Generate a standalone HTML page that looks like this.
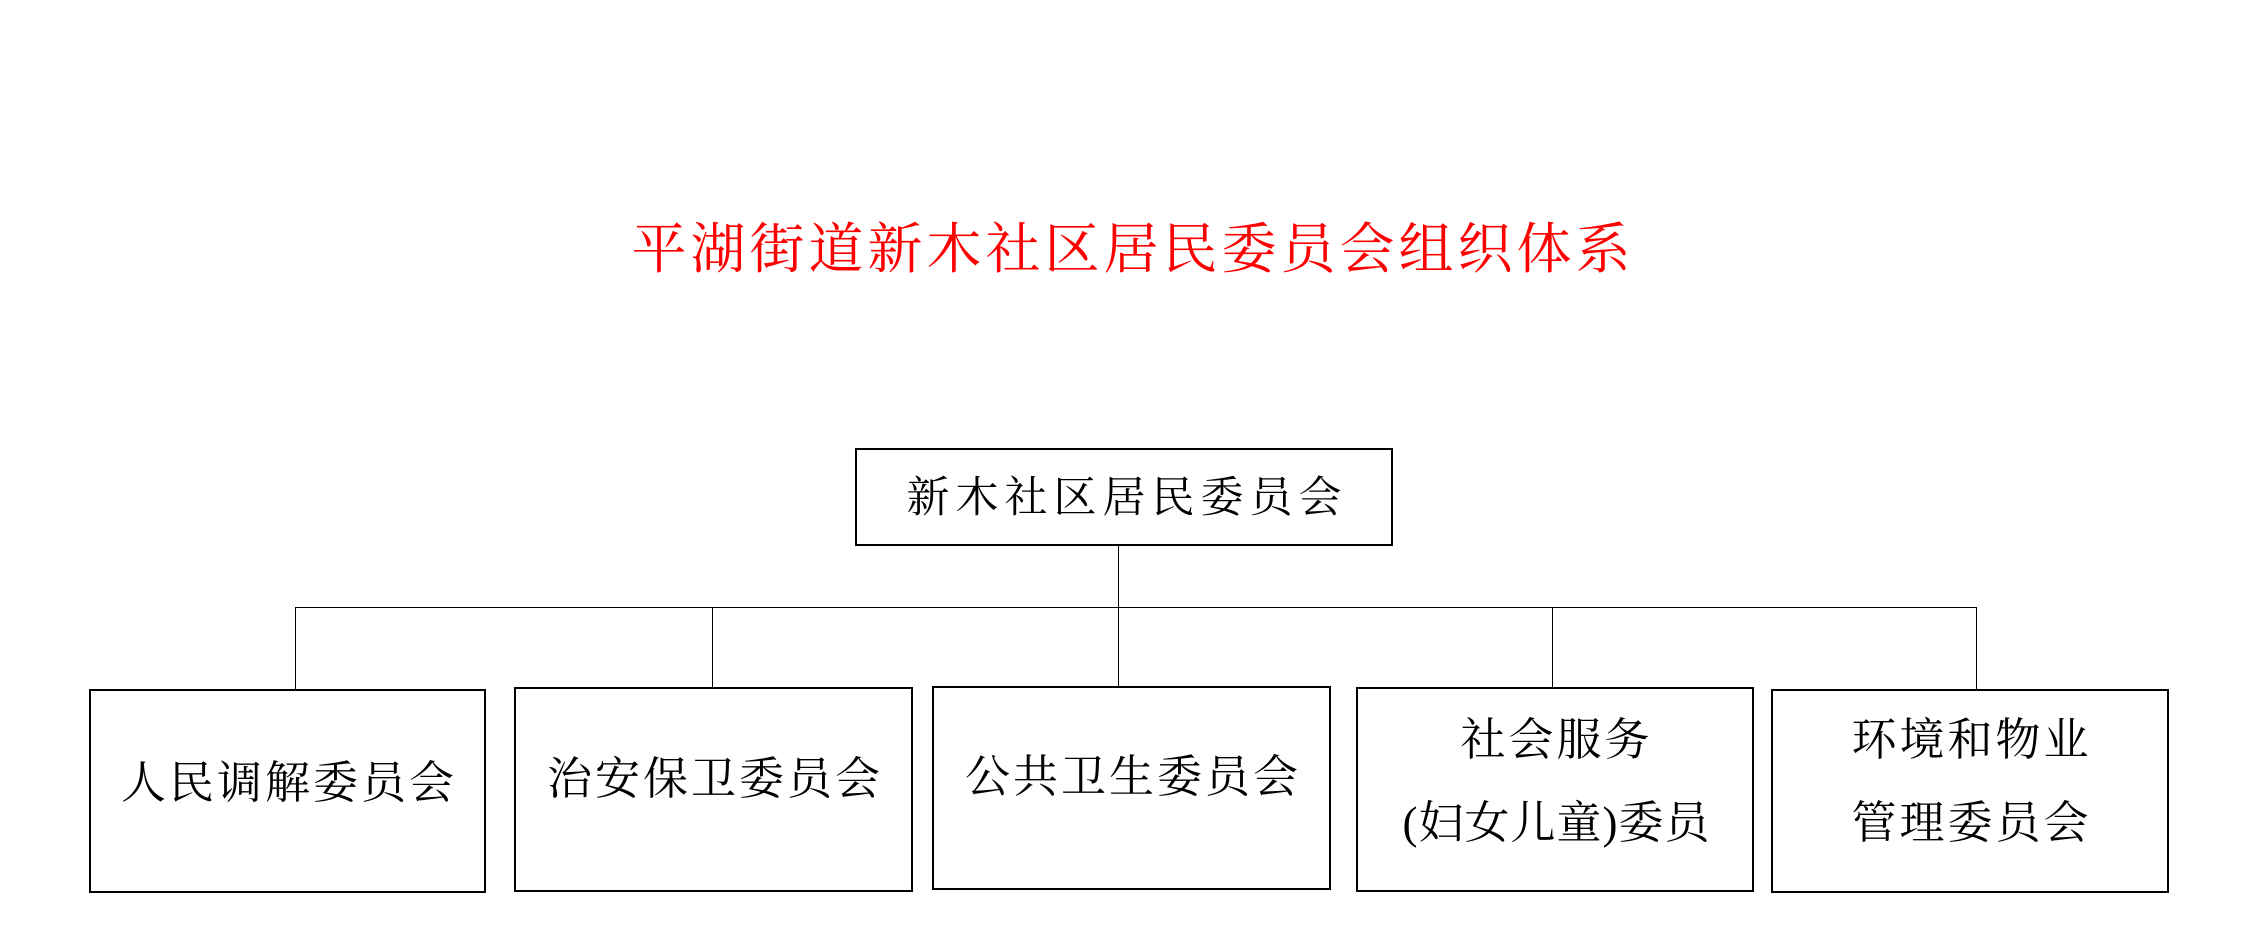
<!DOCTYPE html>
<html><head><meta charset="utf-8"><style>
body{margin:0;width:2245px;height:952px;background:#fff;position:relative;overflow:hidden;font-family:"Liberation Serif","Noto Serif CJK SC",serif;}
.t{position:absolute;white-space:nowrap;text-align:center;line-height:1;}
.s{letter-spacing:3px;text-indent:3px;font-size:45px;}
.b{position:absolute;border:2px solid #000;box-sizing:border-box;}
.l{position:absolute;background:#000;}
</style></head><body>
<div class="t" style="left:600px;width:1062px;top:222px;font-size:55px;color:#f00;letter-spacing:4px;text-indent:4px;">平湖街道新木社区居民委员会组织体系</div>

<div class="b" style="left:855px;top:448px;width:538px;height:98px;"></div>
<div class="t" style="left:855px;width:538px;top:477px;font-size:43px;letter-spacing:6px;text-indent:6px;">新木社区居民委员会</div>

<div class="l" style="left:1118px;top:546px;width:1px;height:140px;"></div>
<div class="l" style="left:295px;top:607px;width:1682px;height:1px;"></div>
<div class="l" style="left:295px;top:607px;width:1px;height:82px;"></div>
<div class="l" style="left:712px;top:607px;width:1px;height:80px;"></div>
<div class="l" style="left:1552px;top:607px;width:1px;height:80px;"></div>
<div class="l" style="left:1976px;top:607px;width:1px;height:82px;"></div>

<div class="b" style="left:89px;top:689px;width:397px;height:204px;"></div>
<div class="t s" style="left:89px;width:397px;top:761px;">人民调解委员会</div>
<div class="b" style="left:514px;top:687px;width:399px;height:205px;"></div>
<div class="t s" style="left:514px;width:399px;top:757px;">治安保卫委员会</div>
<div class="b" style="left:932px;top:686px;width:399px;height:204px;"></div>
<div class="t s" style="left:932px;width:399px;top:755px;">公共卫生委员会</div>
<div class="b" style="left:1356px;top:687px;width:398px;height:205px;"></div>
<div class="t s" style="left:1356px;width:398px;top:718px;">社会服务</div>
<div class="t s" style="left:1356px;width:398px;top:801px;letter-spacing:1px;">(妇女儿童)委员</div>
<div class="b" style="left:1771px;top:689px;width:398px;height:204px;"></div>
<div class="t s" style="left:1771px;width:398px;top:718px;">环境和物业</div>
<div class="t s" style="left:1771px;width:398px;top:801px;">管理委员会</div>
</body></html>
